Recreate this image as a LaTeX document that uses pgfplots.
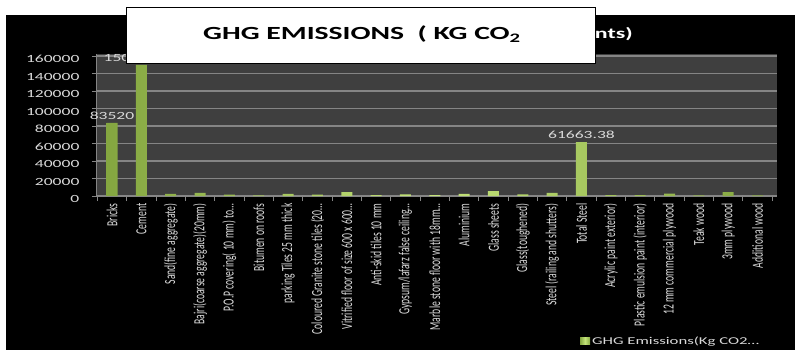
\documentclass[border=0pt]{standalone}
\usepackage{fontspec}
\setmainfont{Carlito}
\newfontfamily\wfont[FakeStretch=1.6]{Carlito}
\newfontfamily\cfont[FakeStretch=0.625]{Carlito}
\usepackage{pgfplots}
\pgfplotsset{compat=1.18}
\definecolor{plotbg}{HTML}{3F3F3F}
\definecolor{gridc}{HTML}{858585}
\definecolor{labc}{HTML}{D9D9D9}
\definecolor{barmid}{HTML}{C4E47A}
\definecolor{baredge}{HTML}{84A640}
\definecolor{legc}{HTML}{9BBB59}
\begin{document}
\begin{tikzpicture}[x=1bp,y=1bp]
\useasboundingbox (0,0) rectangle (795,350);
\fill[white] (0,0) rectangle (795,350);
\fill[black] (6,0) rectangle (795,335);
\node[anchor=base east, inner sep=0pt, text=white, font=\wfont\bfseries\fontsize{15}{17}\selectfont] at (633,312) {GHG Emissions (Kg CO2 for components)};
\begin{axis}[
  at={(95.9bp,154bp)}, anchor=south west,
  scale only axis, width=680.7bp, height=142bp,
  xmin=-0.55, xmax=22.65, ymin=0, ymax=162300,
  clip=false,
  axis background/.style={fill=plotbg},
  ybar, bar width=11bp,
  axis x line*=bottom, axis y line*=left,
  axis line style={gridc, line width=0.8bp},
  ytick={0,20000,...,160000},
  scaled y ticks=false,
  ymajorgrids, grid style={gridc, line width=1.2bp},
  tick align=outside,
  major tick length=4bp, minor tick length=5bp,
  tick style={gridc, line width=0.8bp},
  xtick={0,...,22},
  major x tick style={draw=none},
  minor xtick={-0.5,0.5,...,22.5},
  yticklabel style={font=\wfont\fontsize{11}{12}\selectfont, text=labc, yshift=-3bp, xshift=-9bp,
    /pgf/number format/fixed, /pgf/number format/1000 sep={}, /pgf/number format/assume math mode=true},
  xticklabel style={rotate=90, anchor=east, font=\cfont\fontsize{15.5}{16}\selectfont, text=labc},
  xticklabels={Bricks, Cement, Sand(fine aggregate), Bajri(coarse aggregate)(20mm), P.O.P covering( 10 mm) to\dots, Bitumen on roofs, parking Tiles 25 mm thick, Coloured Granite stone tiles (20\dots, Vitrified floor of size 600 x 600\dots, Anti-skid tiles 10 mm, Gypsum/lafarz false ceiling\dots, Marble stone floor with 18mm\dots, Aluminium, Glass sheets, Glass(toughened), Steel (railing and shutters), Total Steel, Acrylic paint exterior), Plastic emulsion paint (interior), 12 mm commercial plywood, Teak wood, 3mm plywood, Additional wood},
  legend style={at={(0.711,-1.021)}, anchor=west, draw=none, fill=none, inner sep=0pt,
    text=labc, font=\wfont\fontsize{10.5}{12}\selectfont},
  legend image code/.code={\fill[legc, draw=none] (0bp,-3.5bp) rectangle (10bp,3.5bp);},
]
\addplot[draw=none, left color=baredge, right color=baredge, middle color=barmid] coordinates {
  (0,83520) (1,150000) (2,2500) (3,3500) (4,1500) (5,800) (6,2500) (7,1500)
  (8,4500) (9,1000) (10,1800) (11,1000) (12,2500) (13,5500) (14,1800) (15,3500)
  (16,61663.38) (17,1000) (18,1000) (19,2800) (20,800) (21,4500) (22,800)
};
\addlegendentry{GHG Emissions(Kg CO2\dots}
\node[anchor=south, font=\wfont\fontsize{11}{12}\selectfont, text=labc] at (axis cs:0,83520) {83520};
\node[anchor=south, font=\wfont\fontsize{11}{12}\selectfont, text=labc] at (axis cs:1,150000) {150000.00};
\node[anchor=south, font=\wfont\fontsize{11}{12}\selectfont, text=labc] at (axis cs:16,61663.38) {61663.38};
\end{axis}
\draw[black, fill=white, line width=0.8bp] (126,287) rectangle (595,343);
\node[anchor=base west, inner sep=0pt, font=\wfont\bfseries\fontsize{18.6}{22}\selectfont] at (203,310.5) {GHG EMISSIONS\ \ ( KG CO\textsubscript{2}};
\end{tikzpicture}
\end{document}
